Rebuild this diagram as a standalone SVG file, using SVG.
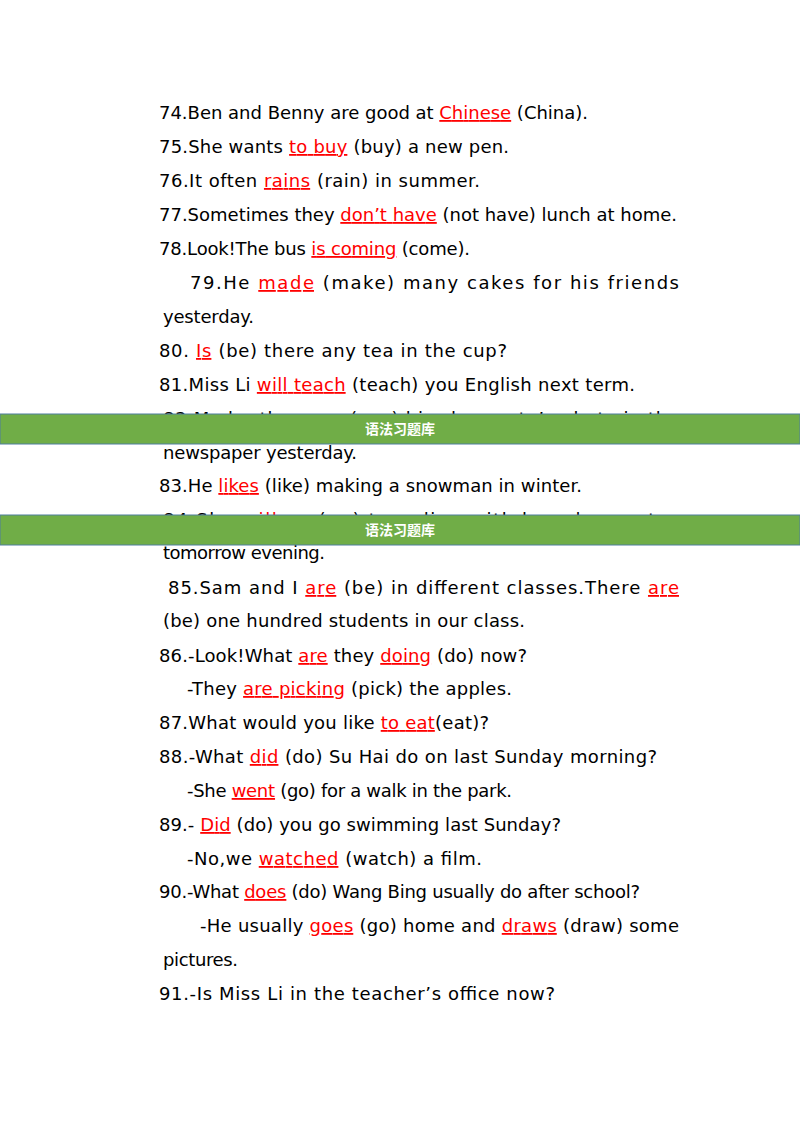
<svg xmlns="http://www.w3.org/2000/svg" width="800" height="1132" viewBox="0 0 800 1132">
<style>
text{font-family:"DejaVu Sans","Liberation Sans",sans-serif;font-size:18px;fill:#000}
.a{fill:#FF0000;text-decoration:underline}
.b{font-family:"Noto Sans CJK SC",sans-serif;font-size:14px;fill:#fff;font-weight:bold}
</style>
<rect width="800" height="1132" fill="#fff"/>
<g id="text" lengthAdjust="spacing">
<text x="159" y="119" textLength="429">74.Ben and Benny are good at <tspan class="a">Chinese</tspan> (China).</text>
<text x="159" y="153" textLength="350">75.She wants <tspan class="a">to buy</tspan> (buy) a new pen.</text>
<text x="159" y="187" textLength="321">76.It often <tspan class="a">rains</tspan> (rain) in summer.</text>
<text x="159" y="221" textLength="518">77.Sometimes they <tspan class="a">don’t have</tspan> (not have) lunch at home.</text>
<text x="159" y="255" textLength="311">78.Look!The bus <tspan class="a">is coming</tspan> (come).</text>
<text x="190" y="289" textLength="489">79.He <tspan class="a">made</tspan> (make) many cakes for his friends</text>
<text x="163" y="323" textLength="91">yesterday.</text>
<text x="159" y="357" textLength="348">80. <tspan class="a">Is</tspan> (be) there any tea in the cup?</text>
<text x="159" y="391" textLength="476">81.Miss Li <tspan class="a">will teach</tspan> (teach) you English next term.</text>
<text x="163" y="425" textLength="516">82.My brother <tspan class="a">saw</tspan> (see) his classmate’s photo in the</text>
<text x="163" y="459" textLength="194">newspaper yesterday.</text>
<text x="159" y="492" textLength="423">83.He <tspan class="a">likes</tspan> (like) making a snowman in winter.</text>
<text x="163" y="526" textLength="516">84.She <tspan class="a">will go</tspan> (go) traveling with her classmates</text>
<text x="163" y="559" textLength="162">tomorrow evening.</text>
<text x="168" y="594" textLength="511">85.Sam and I <tspan class="a">are</tspan> (be) in different classes.There <tspan class="a">are</tspan></text>
<text x="163" y="627" textLength="362">(be) one hundred students in our class.</text>
<text x="159" y="662" textLength="368">86.-Look!What <tspan class="a">are</tspan> they <tspan class="a">doing</tspan> (do) now?</text>
<text x="187" y="695" textLength="325">-They <tspan class="a">are picking</tspan> (pick) the apples.</text>
<text x="159" y="729" textLength="330">87.What would you like <tspan class="a">to eat</tspan>(eat)?</text>
<text x="159" y="763" textLength="498">88.-What <tspan class="a">did</tspan> (do) Su Hai do on last Sunday morning?</text>
<text x="187" y="797" textLength="325">-She <tspan class="a">went</tspan> (go) for a walk in the park.</text>
<text x="159" y="831" textLength="402">89.- <tspan class="a">Did</tspan> (do) you go swimming last Sunday?</text>
<text x="187" y="865" textLength="295">-No,we <tspan class="a">watched</tspan> (watch) a film.</text>
<text x="159" y="898" textLength="481">90.-What <tspan class="a">does</tspan> (do) Wang Bing usually do after school?</text>
<text x="200" y="932" textLength="479">-He usually <tspan class="a">goes</tspan> (go) home and <tspan class="a">draws</tspan> (draw) some</text>
<text x="163" y="966" textLength="75">pictures.</text>
<text x="159" y="1000" textLength="396">91.-Is Miss Li in the teacher’s office now?</text>
</g>
<g id="banner1">
<rect x="0" y="414" width="800" height="30" fill="#70AD47" stroke="#4F7F9E" stroke-width="1"/>
<text class="b" x="400" y="434" text-anchor="middle">语法习题库</text>
</g>
<g id="banner2">
<rect x="0" y="515" width="800" height="30" fill="#70AD47" stroke="#4F7F9E" stroke-width="1"/>
<text class="b" x="400" y="535" text-anchor="middle">语法习题库</text>
</g>
</svg>
